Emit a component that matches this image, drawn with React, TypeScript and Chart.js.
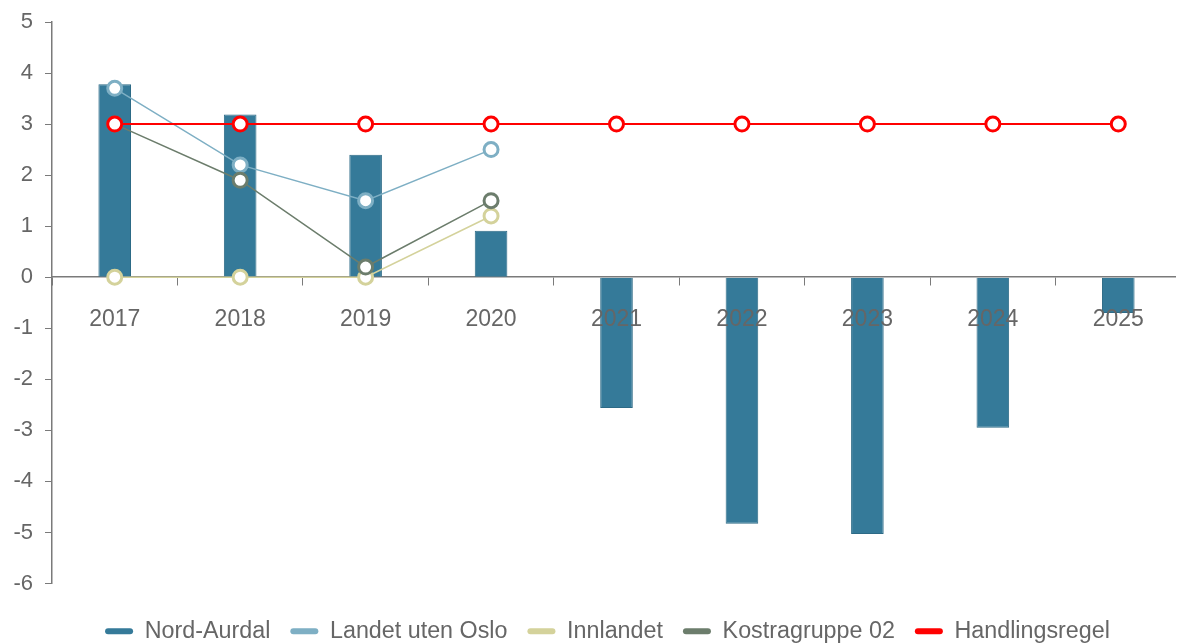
import React, { useEffect, useRef } from "react";
import { Chart, registerables } from "chart.js";

Chart.register(...registerables);

const years = ["2017", "2018", "2019", "2020", "2021", "2022", "2023", "2024", "2025"];
const nordAurdal = [3.78, 3.19, 2.4, 0.91, -2.56, -4.83, -5.03, -2.95, -0.7];
const landetUtenOslo = [3.7, 2.2, 1.5, 2.5, null, null, null, null, null];
const innlandet = [0, 0, 0, 1.2, null, null, null, null, null];
const kostragruppe02 = [3.0, 1.9, 0.2, 1.5, null, null, null, null, null];
const handlingsregel = [3, 3, 3, 3, 3, 3, 3, 3, 3];
const yMin = -6;
const yMax = 5;

const FONT = "'Liberation Sans', Arial, sans-serif";
const TEXT = "#666666";
const AXIS = "#7a7a7a";

function lineDs(label: string, data: (number | null)[], color: string, order: number, width = 1.5) {
  return {
    type: "line" as const,
    label,
    data,
    borderColor: color,
    backgroundColor: color,
    borderWidth: width,
    pointRadius: 7,
    pointHoverRadius: 7,
    pointBorderWidth: 3,
    pointBackgroundColor: "#ffffff",
    pointBorderColor: color,
    spanGaps: false,
    tension: 0,
    order,
  };
}

const shiftLegend = {
  id: "shiftLegend",
  afterLayout(c: any) {
    if (c.legend) {
      c.legend.left += 8;
      c.legend.right += 8;
    }
  },
};

export default function App() {
  const ref = useRef<HTMLCanvasElement | null>(null);

  useEffect(() => {
    if (!ref.current) return;
    const chart = new Chart(ref.current, {
      type: "bar",
      data: {
        labels: years,
        datasets: [
          {
            type: "bar",
            label: "Nord-Aurdal",
            data: nordAurdal,
            backgroundColor: "#357a99",
            borderColor: "#2d6a86",
            borderWidth: 1,
            barPercentage: 0.26,
            categoryPercentage: 1,
            order: 4,
          } as any,
          lineDs("Landet uten Oslo", landetUtenOslo, "#7eafc4", 3),
          lineDs("Innlandet", innlandet, "#d4d29b", 2),
          lineDs("Kostragruppe 02", kostragruppe02, "#6c7d6c", 1),
          lineDs("Handlingsregel", handlingsregel, "#ff0000", 0, 2),
        ],
      },
      options: {
        animation: false,
        responsive: true,
        maintainAspectRatio: false,
        layout: { padding: { top: 14, bottom: 0, left: 0, right: 0 } },
        plugins: {
          tooltip: { enabled: false },
          legend: {
            position: "bottom",
            title: { display: true, text: " ", font: { size: 1 }, padding: { top: 0, bottom: 15 } },
            labels: {
              font: { family: FONT, size: 23.3 },
              color: TEXT,
              boxWidth: 28,
              boxHeight: 6,
              useBorderRadius: true,
              borderRadius: 3,
              padding: 20,
              sort: (a: any, b: any) => a.datasetIndex - b.datasetIndex,
              generateLabels: (c: any) => {
                const items = Chart.defaults.plugins.legend.labels.generateLabels(c);
                return items.map((it: any) => ({ ...it, lineWidth: 0 }));
              },
            },
          },
        },
        scales: {
          x: {
            position: { y: 0 } as any,
            offset: true,
            afterFit: (s: any) => {
              s.height = 0;
              s.paddingLeft = 0;
              s.paddingRight = 0;
            },
            grid: {
              display: true,
              drawOnChartArea: false,
              drawTicks: true,
              tickLength: 8,
              color: AXIS,
              offset: true,
            },
            border: { display: true, color: AXIS, width: 1.5 },
            ticks: {
              z: 1,
              font: { family: FONT, size: 23 },
              color: TEXT,
              padding: 21,
              maxRotation: 0,
              autoSkip: false,
            },
          },
          y: {
            min: yMin,
            max: yMax,
            afterFit: (s: any) => {
              s.width = 44;
              s.paddingTop = 0;
              s.paddingBottom = 0;
            },
            grid: {
              display: true,
              drawOnChartArea: false,
              drawTicks: true,
              tickLength: 7,
              color: AXIS,
            },
            border: { display: true, color: AXIS, width: 1.5 },
            ticks: {
              stepSize: 1,
              font: { family: FONT, size: 22 },
              color: TEXT,
              padding: 12,
            },
          },
        },
      },
      plugins: [shiftLegend],
    });
    return () => chart.destroy();
  }, []);

  return (
    <div style={{ width: 1168, height: 636, overflow: "hidden" }}>
      <div style={{ width: 1183, height: 645, position: "relative" }}>
        <canvas ref={ref} />
      </div>
    </div>
  );
}
